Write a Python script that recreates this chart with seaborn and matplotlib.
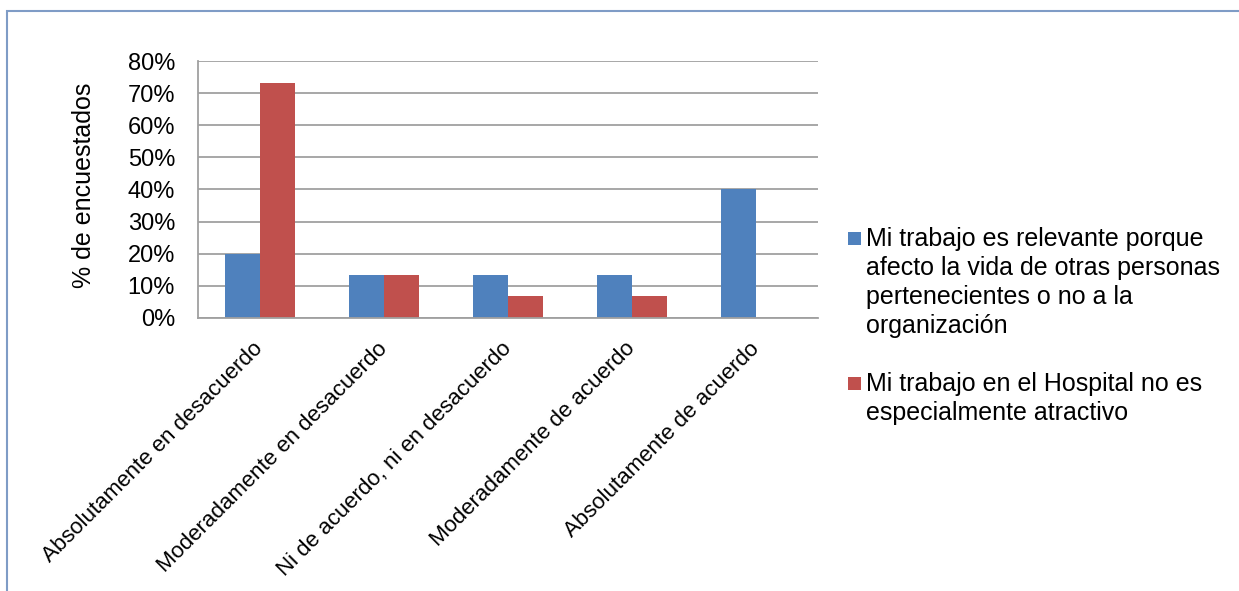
import textwrap
import pandas as pd
import matplotlib.pyplot as plt
import seaborn as sns
from matplotlib.patches import Rectangle
from matplotlib.ticker import PercentFormatter

# Data
categories = ["Absolutamente en desacuerdo", "Moderadamente en desacuerdo",
              "Ni de acuerdo, ni en desacuerdo", "Moderadamente de acuerdo",
              "Absolutamente de acuerdo"]
series_names = ["Mi trabajo es relevante porque afecto la vida de otras personas "
                "pertenecientes o no a la organización",
                "Mi trabajo en el Hospital no es especialmente atractivo"]
relevante = [20.0, 13.3, 13.3, 13.3, 40.0]
atractivo = [73.3, 13.3, 6.7, 6.7, 0.0]
colors = ["#4F81BD", "#C0504D"]
yticks = [0, 10, 20, 30, 40, 50, 60, 70, 80]

df = pd.DataFrame({
    "categoria": categories * 2,
    "serie": [series_names[0]] * len(categories) + [series_names[1]] * len(categories),
    "pct": relevante + atractivo,
})

sns.set_style("white")
plt.rcParams["font.family"] = ["Liberation Sans", "DejaVu Sans"]
plt.rcParams["text.color"] = "black"
plt.rcParams["axes.labelcolor"] = "black"
plt.rcParams["xtick.labelcolor"] = "black"
plt.rcParams["ytick.labelcolor"] = "black"

W, H = 1239, 591
fig = plt.figure(figsize=(W / 100, H / 100), dpi=100)
ax = fig.add_axes([198 / W, 1 - 318 / H, 620 / W, 257 / H])

sns.barplot(data=df, x="categoria", y="pct", hue="serie", order=categories,
            hue_order=series_names, palette=colors, saturation=1, width=0.57,
            gap=0, legend=False, linewidth=0, ax=ax)

grey = "#a0a0a0"
ax.set_ylim(0, 80)
ax.set_yticks(yticks)
ax.yaxis.set_major_formatter(PercentFormatter(decimals=0))
ax.grid(axis="y", color=grey, linewidth=1.3)
ax.set_axisbelow(True)
for s in ["top", "right"]:
    ax.spines[s].set_visible(False)
for s in ["left", "bottom"]:
    ax.spines[s].set_color(grey)
    ax.spines[s].set_linewidth(1.3)
ax.tick_params(axis="y", length=7, color=grey, width=1.3, labelsize=17, pad=9.5,
               labelcolor="black")
ax.tick_params(axis="x", length=0, pad=20, labelcolor="black")
ax.set_xticks(range(len(categories)))
ax.set_xticklabels(categories, rotation=45, ha="right", va="center",
                   rotation_mode="anchor", fontsize=16)
ax.set_xlabel("")
ax.set_ylabel("% de encuestados", fontsize=18, color="black")
ax.yaxis.set_label_coords(-0.165, 0.516)

# legend drawn by hand so the square sits next to the first line
leg_tops = [227, 371.5]
for name, c, top in zip(series_names, colors, leg_tops):
    sq = 13
    fig.add_artist(Rectangle((848 / W, 1 - (top + 11.5 + sq / 2) / H), sq / W, sq / H,
                             transform=fig.transFigure, facecolor=c, edgecolor="none"))
    fig.text(866 / W, 1 - top / H, textwrap.fill(name, 32), fontsize=18,
             va="top", ha="left", linespacing=1.27, color="black")

# outer frame of the chart area
fig.add_artist(Rectangle((6.5 / W, -0.1), 1.2, 1 - 10.5 / H + 0.1,
                         transform=fig.transFigure, fill=False,
                         edgecolor="#7f9cc6", linewidth=1.5))

fig.savefig("out.png", dpi=100)
